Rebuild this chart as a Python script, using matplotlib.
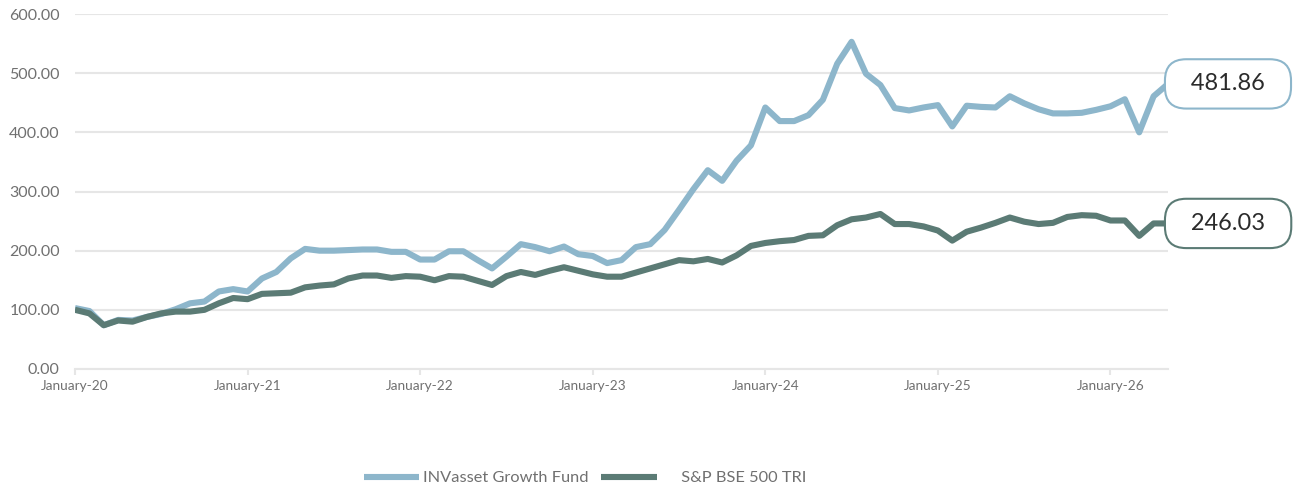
import matplotlib
matplotlib.use("Agg")
import matplotlib.pyplot as plt
import numpy as np

plt.rcParams['font.family'] = ['Lato', 'DejaVu Sans']

# monthly index values, Jan-2020 onwards (base 100)
fund = [103, 98, 74, 83, 82, 88, 93, 101, 111, 114, 131, 135,
        131, 153, 164, 187, 203, 200, 200, 201, 202, 202, 198, 198,
        185, 185, 199, 199, 184, 170, 190, 211, 206, 199, 207, 194,
        191, 179, 184, 206, 211, 235, 269, 304, 336, 318, 352, 378,
        442, 419, 419, 429, 455, 516, 553, 499, 480, 441, 437, 442,
        446, 410, 445, 443, 442, 461, 449, 439, 432, 432, 433, 438,
        444, 456, 400, 461, 481.86]
index = [100, 94, 74, 82, 80, 88, 94, 97, 97, 100, 111, 120,
         118, 127, 128, 129, 138, 141, 143, 153, 158, 158, 154, 157,
         156, 150, 157, 156, 149, 142, 157, 164, 159, 166, 172, 166,
         160, 156, 156, 163, 170, 177, 184, 182, 186, 180, 192, 208,
         213, 216, 218, 225, 226, 243, 253, 256, 262, 245, 245, 241,
         234, 217, 232, 239, 247, 256, 249, 245, 247, 257, 260, 259,
         251, 251, 225, 246, 246.03]
year_labels = ['January-20', 'January-21', 'January-22', 'January-23',
               'January-24', 'January-25', 'January-26']
fund_name = 'INVasset Growth Fund'
index_name = 'S&P BSE 500 TRI'

fund_col = '#8db6cb'
index_col = '#5b7b75'
grid_col = '#e6e6e6'
text_col = '#707070'

x = np.arange(len(fund))

fig = plt.figure(figsize=(12.94, 4.91), dpi=100)
ax = fig.add_axes([75/1294, 1-369/491, (1168-75)/1294, (369-14)/491])

l1, = ax.plot(x, fund, color=fund_col, lw=4.4, solid_joinstyle='round',
              solid_capstyle='butt', label=fund_name, zorder=3)
l2, = ax.plot(x, index, color=index_col, lw=4.4, solid_joinstyle='round',
              solid_capstyle='butt', label=index_name, zorder=4)

ax.set_xlim(0, len(fund) - 1)
ax.set_ylim(0, 600)
ax.set_yticks(np.arange(0, 601, 100))
ax.yaxis.set_major_formatter(matplotlib.ticker.StrMethodFormatter('{x:.2f}'))
ax.set_xticks(np.arange(0, len(fund), 12))
ax.set_xticklabels(year_labels)

ax.grid(axis='y', color=grid_col, lw=1.5)
ax.set_axisbelow(True)
for s in ['top', 'right', 'left']:
    ax.spines[s].set_visible(False)
ax.spines['bottom'].set_color(grid_col)
ax.spines['bottom'].set_linewidth(1.5)
ax.tick_params(axis='y', length=0, pad=11, labelsize=11.5, labelcolor=text_col)
ax.tick_params(axis='x', length=4, width=1.5, color=grid_col, pad=4,
               labelsize=9.8, labelcolor=text_col)

# end-of-line value callouts
for vals, col in [(fund, fund_col), (index, index_col)]:
    ax.annotate('\u2002' + f'{vals[-1]:.2f}' + '\u2002', xy=(x[-1], vals[-1]),
                xytext=(8, 0), textcoords='offset points', ha='left',
                va='center', fontsize=17, color='#2b2b2b',
                annotation_clip=False,
                bbox=dict(boxstyle='round,pad=0.6,rounding_size=0.9',
                          fc='white', ec=col, lw=1.5), zorder=6)

fig.legend(handles=[l1, l2], labels=[fund_name, '     ' + index_name],
           loc='center', bbox_to_anchor=(585/1294, 1-478/491), ncol=2,
           frameon=False, fontsize=11.8, labelcolor=text_col,
           handlelength=3.4, handletextpad=0.2, columnspacing=0.8)

fig.savefig('out.png', dpi=100)
